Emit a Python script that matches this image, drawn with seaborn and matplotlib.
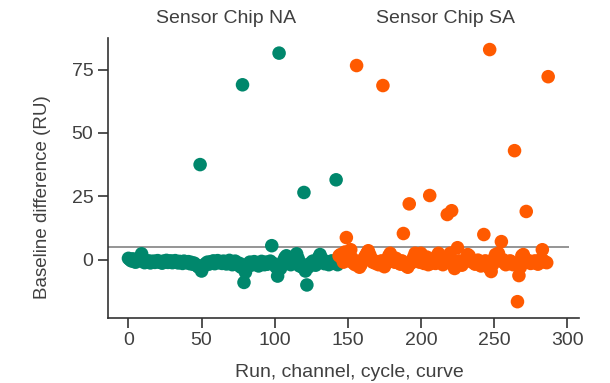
import matplotlib
matplotlib.use("Agg")
import matplotlib.pyplot as plt
import matplotlib.transforms as mtransforms
import numpy as np
import pandas as pd
import seaborn as sns

# baseline differences, one per curve
na_values = [
    0.5, 0.0, -0.5, 0.3, -0.8, -1.0, -0.5, 0.2, 1.0, 2.3,
    0.5, -1.2, -0.8, -1.0, -0.5, -1.3, -0.9, -0.6, -1.1, -0.7,
    -0.4, -1.0, -0.8, -1.4, -0.6, -0.9, -0.3, -1.1, -0.7, -0.5,
    -1.2, -0.8, -0.4, -1.0, -1.3, -0.7, -0.9, -1.5, -0.6, -1.0,
    -1.2, -0.8, -1.6, -1.1, -1.8, -1.4, -2.0, -2.5, -3.0, 37.5,
    -4.5, -3.0, -2.0, -1.5, -1.0, -1.8, -0.9, -1.3, -0.5, -1.6,
    -1.0, -0.4, -1.2, -0.8, -1.5, -0.6, -1.1, -1.7, -0.9, -0.3,
    -1.4, -2.0, -1.0, -0.6, -1.2, -2.2, -1.5, -3.0, 69.0, -9.0,
    -5.0, -2.5, -1.8, -1.0, -2.2, -1.4, -0.8, -1.9, -1.2, -2.5,
    -1.6, -0.7, -1.3, -2.0, -1.0, -1.8, -1.1, -0.6, 5.5, -1.5,
    -2.2, -3.0, -6.5, 81.5, -3.5, -1.8, -0.5, 0.8, 1.5, 0.5,
    -1.0, -2.0, -1.2, -0.5, 1.0, 2.3, 0.5, -2.5, -1.5, -3.0,
    26.5, -4.5, -10.0, -3.0, -1.8, -1.2, -0.6, -1.5, -2.2, -0.8,
    0.8, 2.0, 0.6, -1.0, -1.6, -0.7, -1.3, -2.0, -1.1, -0.5,
    -1.4, -0.9, 31.5, -2.0,
]
sa_values = [
    1.5, 2.0, 0.5, -1.0, 3.0, 8.7, 1.0, -0.5, 3.9, 0.5,
    -1.5, -2.0, 76.6, -1.0, -3.0, -2.0, -0.5, 0.5, 1.5, 2.5,
    3.5, 2.0, 0.5, -1.0, -0.5, -1.5, -0.8, -2.0, -1.2, -0.5,
    68.7, -2.8, -1.5, 0.0, 1.5, 2.5, 1.0, -0.5, -1.0, 0.5,
    -1.2, -0.8, -1.8, -0.5, 10.3, -1.5, -2.5, -3.0, 22.0, -1.5,
    -0.5, 1.0, 2.5, 1.5, 0.0, -1.0, 2.5, 0.5, -1.5, -0.5,
    1.0, -2.0, 25.3, -1.5, -0.8, 0.0, -1.5, 1.5, 2.5, 0.5,
    -1.0, -2.0, -1.2, -0.5, 17.8, 0.5, 2.5, 19.3, -1.5, -3.5,
    -2.0, 4.7, -0.5, -1.5, -2.2, -1.0, -0.5, 0.5, 2.0, 1.5,
    0.0, -1.0, -0.8, -1.8, -1.0, -0.2, -1.5, -2.5, -1.0, 9.9,
    -0.5, -1.8, -3.0, 82.9, -4.7, -2.0, 0.5, 2.0, 1.0, 2.5,
    -0.5, 7.1, 0.0, -1.2, -2.0, -0.8, -1.5, -0.5, -1.0, -2.0,
    43.0, -1.5, -16.6, -6.3, -3.0, 1.5, 2.0, 0.5, 19.0, -1.0,
    -0.5, -1.5, -0.8, -1.2, -0.5, -1.0, -1.8, -0.5, 0.0, 3.9,
    -0.5, -1.0, -1.2, 72.2,
]
chip_labels = ["Sensor Chip NA", "Sensor Chip SA"]
label_x = [67, 217]
threshold = 5
x_ticks = [0, 50, 100, 150, 200, 250, 300]
y_ticks = [0, 25, 50, 75]

df = pd.DataFrame({
    "curve": np.arange(len(na_values) + len(sa_values)),
    "diff": na_values + sa_values,
    "chip": [chip_labels[0]] * len(na_values) + [chip_labels[1]] * len(sa_values),
})

sns.set_style("ticks")
plt.rcParams["font.family"] = ["Liberation Sans", "DejaVu Sans"]
text_col = "#404040"

fig = plt.figure(figsize=(6.1, 3.83), dpi=100)
ax = fig.add_axes([0.177, 0.170, 0.772, 0.731])

ax.hlines(threshold, -14, 301, color="#8c8c8c", lw=1.3, zorder=1)
sns.scatterplot(data=df, x="curve", y="diff", hue="chip",
                palette=["#00876c", "#ff5a00"], s=95, linewidth=0,
                legend=False, ax=ax, zorder=2)

ax.set_xlim(-14, 308)
ax.set_ylim(-23, 87.5)
ax.set_xticks(x_ticks)
ax.set_yticks(y_ticks)
ax.set_xlabel("Run, channel, cycle, curve", fontsize=14, color=text_col)
ax.set_ylabel("Baseline difference (RU)", fontsize=13.5, color=text_col)
ax.xaxis.set_label_coords(0.512, -0.163)
ax.yaxis.set_label_coords(-0.12, 0.432)
ax.tick_params(labelsize=14, labelcolor=text_col, color="#333333",
               length=7, width=1.2)
sns.despine(ax=ax)
for side in ["left", "bottom"]:
    ax.spines[side].set_color("#333333")
    ax.spines[side].set_linewidth(1.2)

trans = mtransforms.blended_transform_factory(ax.transData, ax.transAxes)
for lx, lab in zip(label_x, chip_labels):
    ax.text(lx, 1.07, lab, transform=trans, ha="center", va="center",
            fontsize=14, color=text_col)

fig.savefig("out.png", dpi=100)
